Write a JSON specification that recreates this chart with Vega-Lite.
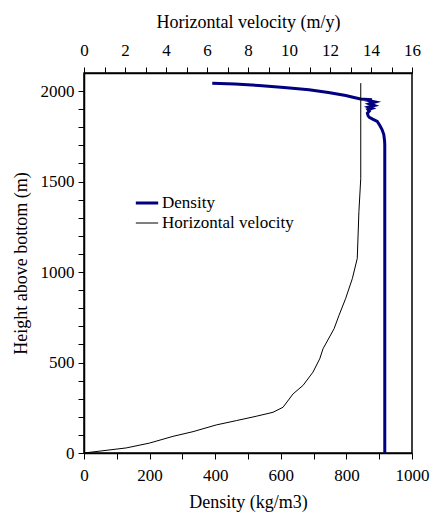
{
  "$schema": "https://vega.github.io/schema/vega-lite/v6.json",
  "width": 328,
  "height": 380,
  "padding": {"left": 12, "top": 13, "right": 5, "bottom": 5},
  "background": "white",
  "config": {
    "font": "Liberation Serif",
    "view": {"stroke": "black", "strokeWidth": 1.5},
    "style": {
      "guide-label": {"font": "Liberation Serif"},
      "guide-title": {"font": "Liberation Serif"}
    },
    "axis": {
      "grid": false,
      "domainColor": "black",
      "domainWidth": 1.5,
      "tickColor": "black",
      "tickWidth": 1,
      "tickSize": 6,
      "labelColor": "black",
      "titleColor": "black",
      "labelFont": "Liberation Serif",
      "titleFont": "Liberation Serif",
      "labelFontSize": 17,
      "titleFontSize": 18,
      "titleFontWeight": "normal",
      "labelOverlap": false,
      "labelFlush": false
    },
    "legend": {
      "labelFont": "Liberation Serif",
      "labelFontSize": 17,
      "labelColor": "black"
    }
  },
  "datasets": {
    "density": [
      {"h": 0, "d": 917, "series": "Density"},
      {"h": 500, "d": 917, "series": "Density"},
      {"h": 1000, "d": 917, "series": "Density"},
      {"h": 1500, "d": 917, "series": "Density"},
      {"h": 1700, "d": 917, "series": "Density"},
      {"h": 1723, "d": 916.5, "series": "Density"},
      {"h": 1760, "d": 914, "series": "Density"},
      {"h": 1786, "d": 909, "series": "Density"},
      {"h": 1810, "d": 902, "series": "Density"},
      {"h": 1832, "d": 894, "series": "Density"},
      {"h": 1845, "d": 880, "series": "Density"},
      {"h": 1855, "d": 870, "series": "Density"},
      {"h": 1865, "d": 866, "series": "Density"},
      {"h": 1878, "d": 864, "series": "Density"},
      {"h": 1890, "d": 870, "series": "Density"},
      {"h": 1898, "d": 866, "series": "Density"},
      {"h": 1905, "d": 878, "series": "Density"},
      {"h": 1912, "d": 868, "series": "Density"},
      {"h": 1920, "d": 885, "series": "Density"},
      {"h": 1930, "d": 870, "series": "Density"},
      {"h": 1940, "d": 888, "series": "Density"},
      {"h": 1947, "d": 870, "series": "Density"},
      {"h": 1952, "d": 878, "series": "Density"},
      {"h": 1956, "d": 843, "series": "Density"},
      {"h": 1966, "d": 820, "series": "Density"},
      {"h": 1976, "d": 798, "series": "Density"},
      {"h": 1992, "d": 745, "series": "Density"},
      {"h": 2007, "d": 686, "series": "Density"},
      {"h": 2020, "d": 610, "series": "Density"},
      {"h": 2031, "d": 533, "series": "Density"},
      {"h": 2039, "d": 460, "series": "Density"},
      {"h": 2044, "d": 391, "series": "Density"}
    ],
    "velocity": [
      {"h": 0, "v": 0, "series": "Horizontal velocity"},
      {"h": 28, "v": 2.06, "series": "Horizontal velocity"},
      {"h": 55, "v": 3.2, "series": "Horizontal velocity"},
      {"h": 92, "v": 4.34, "series": "Horizontal velocity"},
      {"h": 118, "v": 5.32, "series": "Horizontal velocity"},
      {"h": 155, "v": 6.45, "series": "Horizontal velocity"},
      {"h": 179, "v": 7.43, "series": "Horizontal velocity"},
      {"h": 203, "v": 8.4, "series": "Horizontal velocity"},
      {"h": 225, "v": 9.22, "series": "Horizontal velocity"},
      {"h": 253, "v": 9.71, "series": "Horizontal velocity"},
      {"h": 327, "v": 10.2, "series": "Horizontal velocity"},
      {"h": 373, "v": 10.68, "series": "Horizontal velocity"},
      {"h": 447, "v": 11.17, "series": "Horizontal velocity"},
      {"h": 521, "v": 11.5, "series": "Horizontal velocity"},
      {"h": 576, "v": 11.66, "series": "Horizontal velocity"},
      {"h": 687, "v": 12.2, "series": "Horizontal velocity"},
      {"h": 761, "v": 12.44, "series": "Horizontal velocity"},
      {"h": 853, "v": 12.76, "series": "Horizontal velocity"},
      {"h": 964, "v": 13.09, "series": "Horizontal velocity"},
      {"h": 1075, "v": 13.33, "series": "Horizontal velocity"},
      {"h": 1333, "v": 13.41, "series": "Horizontal velocity"},
      {"h": 1518, "v": 13.5, "series": "Horizontal velocity"},
      {"h": 2044, "v": 13.5, "series": "Horizontal velocity"}
    ]
  },
  "encoding": {
    "y": {
      "field": "h", "type": "quantitative",
      "scale": {"domain": [0, 2100], "nice": false},
      "axis": {
        "title": "Height above bottom (m)",
        "format": "d",
        "values": [0,100,200,300,400,500,600,700,800,900,1000,1100,1200,1300,1400,1500,1600,1700,1800,1900,2000],
        "labelExpr": "datum.value % 500 === 0 ? datum.label : ''",
        "labelPadding": 4,
        "titlePadding": 10,
        "encode": {
          "labels": {"update": {"font": {"value": "Liberation Serif"}}},
          "title": {"update": {"font": {"value": "Liberation Serif"}}}
        }
      }
    },
    "order": {"field": "h", "type": "quantitative"}
  },
  "layer": [
    {
      "data": {"name": "density"},
      "mark": {"type": "line", "clip": true},
      "encoding": {
        "x": {
          "field": "d", "type": "quantitative",
          "scale": {"domain": [0, 1000], "nice": false, "zero": false},
          "axis": {
            "orient": "bottom",
            "title": "Density (kg/m3)",
            "format": "d",
            "values": [0,100,200,300,400,500,600,700,800,900,1000],
            "labelExpr": "datum.value % 200 === 0 ? datum.label : ''",
            "labelPadding": 8,
            "titlePadding": 10,
            "encode": {
              "labels": {"update": {"font": {"value": "Liberation Serif"}}},
              "title": {"update": {"font": {"value": "Liberation Serif"}}}
            }
          }
        },
        "color": {
          "field": "series", "type": "nominal",
          "scale": {"domain": ["Density", "Horizontal velocity"], "range": ["#000080", "#000000"]},
          "legend": {
            "title": null,
            "orient": "none",
            "legendX": 50,
            "legendY": 117,
            "symbolType": "stroke",
            "symbolSize": 500,
            "labelOffset": 2,
            "rowPadding": 0,
            "padding": 0
          }
        },
        "strokeWidth": {
          "field": "series", "type": "nominal",
          "scale": {"domain": ["Density", "Horizontal velocity"], "range": [3, 1]},
          "legend": {
            "title": null,
            "orient": "none",
            "legendX": 50,
            "legendY": 117,
            "symbolType": "stroke",
            "symbolSize": 500,
            "labelOffset": 2,
            "rowPadding": 0,
            "padding": 0
          }
        }
      }
    },
    {
      "data": {"name": "velocity"},
      "mark": {"type": "line", "clip": true},
      "encoding": {
        "x": {
          "field": "v", "type": "quantitative",
          "scale": {"domain": [0, 16], "nice": false, "zero": false},
          "axis": {
            "orient": "top",
            "title": "Horizontal velocity (m/y)",
            "values": [0,1,2,3,4,5,6,7,8,9,10,11,12,13,14,15,16],
            "labelExpr": "datum.value % 2 === 0 ? datum.label : ''",
            "labelPadding": 8,
            "titlePadding": 10,
            "encode": {
              "labels": {"update": {"font": {"value": "Liberation Serif"}}},
              "title": {"update": {"font": {"value": "Liberation Serif"}}}
            }
          }
        },
        "color": {"field": "series", "type": "nominal"},
        "strokeWidth": {"field": "series", "type": "nominal"}
      }
    }
  ],
  "resolve": {"scale": {"x": "independent"}, "axis": {"x": "independent"}}
}
